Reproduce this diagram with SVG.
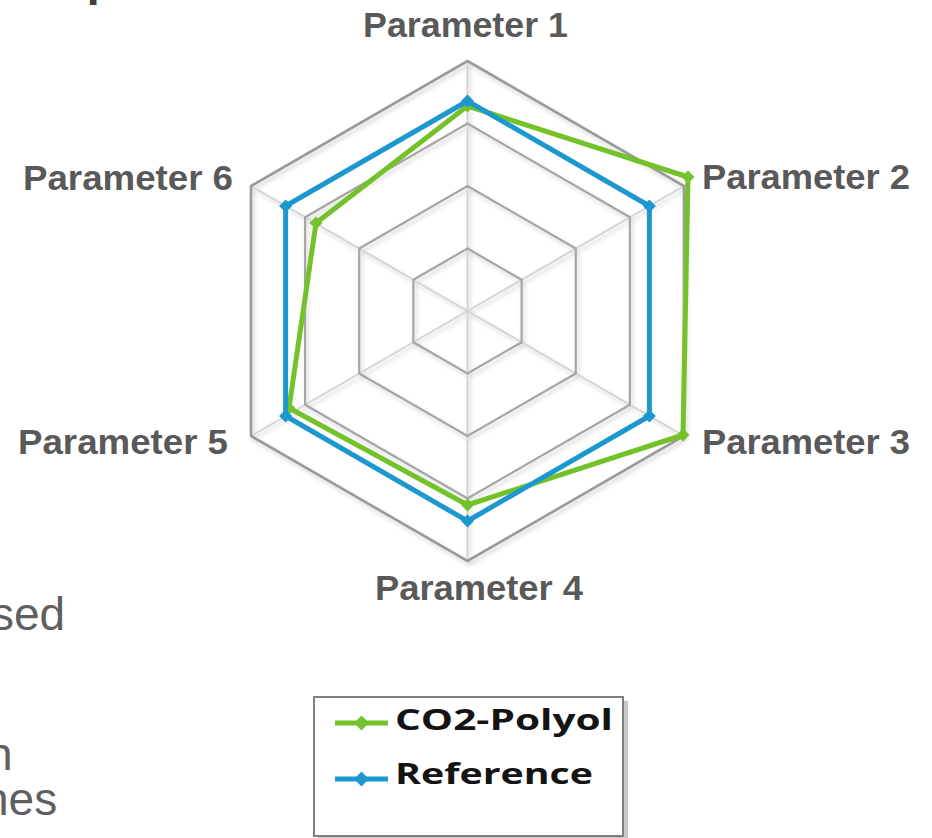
<svg xmlns="http://www.w3.org/2000/svg" width="932" height="838" viewBox="0 0 932 838">
<defs>
<style>
.ring{fill:none;stroke:#a6a6a6;stroke-width:2.2;stroke-linejoin:miter}
.outer{fill:none;stroke:#9a9a9a;stroke-width:2.6}
.spoke{stroke:#d4d4d4;stroke-width:2}
.lbl{font-family:"Liberation Sans",Arial,sans-serif;font-weight:bold;font-size:35px;fill:#595959}
.side{font-family:"Liberation Sans",Arial,sans-serif;font-size:46px;fill:#5f5f5f}
.leg{font-family:"Open Sans","Liberation Sans",sans-serif;font-weight:bold;font-size:29px;fill:#141414}
.green{fill:none;stroke:#74c22a;stroke-width:5;stroke-linejoin:round}
.blue{fill:none;stroke:#1d98cf;stroke-width:5;stroke-linejoin:round}
</style>
<filter id="sh" x="-10%" y="-10%" width="120%" height="120%">
<feDropShadow dx="2" dy="3" stdDeviation="2" flood-color="#000" flood-opacity="0.18"/>
</filter>
<marker id="mg" viewBox="-7 -7 14 14" markerWidth="14" markerHeight="14" markerUnits="userSpaceOnUse" refX="0" refY="0" orient="0">
<path d="M0,-6.5 L6.5,0 L0,6.5 L-6.5,0 Z" fill="#74c22a"/>
</marker>
<marker id="mb" viewBox="-7 -7 14 14" markerWidth="14" markerHeight="14" markerUnits="userSpaceOnUse" refX="0" refY="0" orient="0">
<path d="M0,-6.5 L6.5,0 L0,6.5 L-6.5,0 Z" fill="#1d98cf"/>
</marker>
</defs>
<rect width="932" height="838" fill="#ffffff"/>

<g id="side-text">
<text class="side" x="-9" y="630">sed</text>
<text class="side" x="-13" y="770">n</text>
<text class="side" x="-17" y="815">nes</text>
<text x="86.5" y="-5" font-family="Liberation Sans,Arial,sans-serif" font-weight="bold" font-size="48" fill="#404040">p</text>
</g>

<g id="grid" filter="url(#sh)">
<g id="spokes">
<line class="spoke" x1="467.5" y1="311" x2="467.5" y2="61"/>
<line class="spoke" x1="467.5" y1="311" x2="684" y2="186"/>
<line class="spoke" x1="467.5" y1="311" x2="684" y2="436"/>
<line class="spoke" x1="467.5" y1="311" x2="467.5" y2="561"/>
<line class="spoke" x1="467.5" y1="311" x2="251" y2="436"/>
<line class="spoke" x1="467.5" y1="311" x2="251" y2="186"/>
</g>
<polygon class="ring" points="467.5,248.5 521.63,279.75 521.63,342.25 467.5,373.5 413.37,342.25 413.37,279.75"/>
<polygon class="ring" points="467.5,186 575.75,248.5 575.75,373.5 467.5,436 359.25,373.5 359.25,248.5"/>
<polygon class="ring" points="467.5,123.5 629.88,217.25 629.88,404.75 467.5,498.5 305.12,404.75 305.12,217.25"/>
<polygon class="outer" points="467.5,61 684,186 684,436 467.5,561 251,436 251,186"/>
</g>

<g id="connectors">
<polygon id="series-co2" class="green" marker-start="url(#mg)" marker-mid="url(#mg)" points="467.5,106 688,177 683,435 467.5,505 289,408 316,223"/>
<polygon id="series-ref" class="blue" marker-start="url(#mb)" marker-mid="url(#mb)" points="467.5,101 649.37,206 649.37,416 467.5,521 285.63,416 285.63,206"/>
</g>

<g id="label-p1"><text class="lbl" x="363" y="37" textLength="205" lengthAdjust="spacingAndGlyphs">Parameter 1</text></g>
<g id="label-p2"><text class="lbl" x="702" y="189" textLength="208" lengthAdjust="spacingAndGlyphs">Parameter 2</text></g>
<g id="label-p3"><text class="lbl" x="702" y="454" textLength="208" lengthAdjust="spacingAndGlyphs">Parameter 3</text></g>
<g id="label-p4"><text class="lbl" x="375" y="600" textLength="208" lengthAdjust="spacingAndGlyphs">Parameter 4</text></g>
<g id="label-p5"><text class="lbl" x="18" y="454" textLength="210" lengthAdjust="spacingAndGlyphs">Parameter 5</text></g>
<g id="label-p6"><text class="lbl" x="23" y="190" textLength="210" lengthAdjust="spacingAndGlyphs">Parameter 6</text></g>

<g id="legend">
<rect x="318" y="701" width="310" height="140" fill="#c8c8c8"/>
<rect x="314" y="697" width="309" height="139" fill="#ffffff" stroke="#7f7f7f" stroke-width="2"/>
<line x1="335" y1="723" x2="388" y2="723" stroke="#74c22a" stroke-width="5"/>
<path d="M361.5,715.5 L369,723 L361.5,730.5 L354,723 Z" fill="#74c22a"/>
<text class="leg" transform="translate(395,729.5) scale(1.3,1)" x="0" y="0" textLength="167.7" lengthAdjust="spacingAndGlyphs">CO2-Polyol</text>
<line x1="335" y1="779" x2="388" y2="779" stroke="#1d98cf" stroke-width="5"/>
<path d="M361.5,771.5 L369,779 L361.5,786.5 L354,779 Z" fill="#1d98cf"/>
<text class="leg" transform="translate(395,783.5) scale(1.3,1)" x="0" y="0" textLength="152.3" lengthAdjust="spacingAndGlyphs">Reference</text>
</g>
</svg>
